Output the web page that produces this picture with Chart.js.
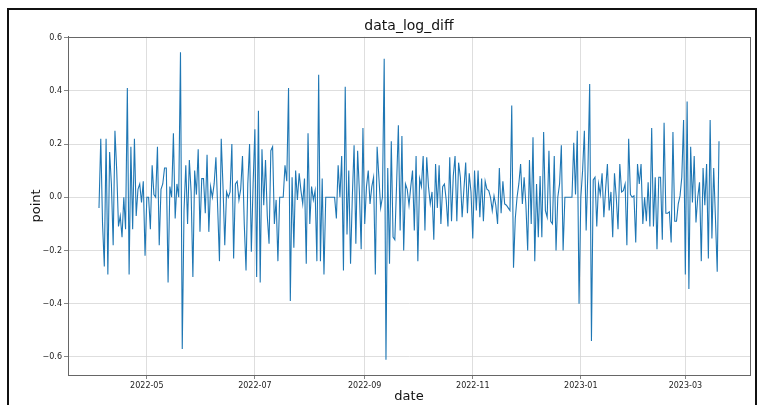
<!DOCTYPE html>
<html>
<head>
  <title>data_log_diff</title>
  <script src="https://cdn.jsdelivr.net/npm/chart.js"></script>
  <style>
    body { margin: 0; background: #fff; }
  </style>
</head>
<body>
  <canvas id="diffChart" width="760" height="405"></canvas>

  <script>
    // daily values, first one is 2022-04-04
    const startDate = '2022-04-04';
    const values = [
      -0.04, 0.22, -0.10, -0.26, 0.22, -0.29, 0.17, 0.05, -0.18, 0.25,
      0.10, -0.11, -0.07, -0.15, 0.0, -0.12, 0.41, -0.29, 0.19, -0.12,
      0.22, -0.07, 0.03, 0.05, -0.02, 0.06, -0.22, 0.0, 0.0, -0.12,
      0.12, 0.01, 0.0, 0.19, -0.18, 0.03, 0.05, 0.11, 0.11, -0.32,
      0.04, 0.0, 0.24, -0.08, 0.05, 0.0, 0.545, -0.57, -0.05, 0.12,
      -0.10, 0.14, 0.02, -0.30, 0.10, 0.01, 0.18, -0.13, 0.07, 0.07,
      -0.06, 0.16, -0.13, 0.04, 0.0, 0.05, 0.15, -0.04, -0.24, 0.22,
      0.04, -0.18, 0.02, 0.0, 0.02, 0.20, -0.23, 0.05, 0.06, -0.01,
      0.03, 0.155, -0.10, -0.275, 0.05, 0.20, -0.205, 0.05, 0.255, -0.30,
      0.325, -0.32, 0.18, -0.03, 0.14, -0.07, -0.175, 0.175, 0.19, -0.10,
      -0.01, -0.24, 0.0, 0.0, 0.0, 0.12, 0.06, 0.41, -0.39, 0.075,
      -0.19, 0.10, -0.01, 0.09, 0.025, -0.025, 0.07, -0.25, 0.24, -0.10,
      0.04, -0.01, 0.025, -0.24, 0.46, -0.24, 0.07, -0.29, 0.0, 0.0,
      0.0, 0.0, 0.0, 0.0, -0.08, 0.12, 0.0, 0.155, -0.275, 0.415,
      -0.14, 0.10, -0.25, 0.0, 0.195, -0.175, 0.175, 0.02, -0.195, 0.26,
      -0.10, 0.04, 0.10, -0.025, 0.04, 0.075, -0.29, 0.19, 0.075, -0.04,
      0.0, 0.52, -0.61, 0.11, -0.25, 0.21, -0.15, -0.16, 0.05, 0.27,
      -0.125, 0.23, -0.20, 0.05, 0.03, -0.03, 0.04, 0.10, -0.125, 0.155,
      -0.24, 0.07, 0.04, 0.155, -0.125, 0.15, 0.04, -0.025, 0.02, -0.16,
      0.125, -0.04, 0.12, -0.10, 0.04, 0.05, -0.01, -0.11, 0.15, -0.09,
      0.08, 0.155, -0.09, 0.13, 0.075, -0.075, 0.03, 0.13, -0.06, 0.09,
      0.02, -0.155, 0.10, -0.05, 0.10, -0.075, 0.07, -0.09, 0.06, 0.03,
      0.025, 0.0, -0.05, 0.005, -0.03, -0.10, 0.11, -0.06, 0.06, -0.025,
      -0.03, -0.04, -0.05, 0.345, -0.265, -0.08, 0.0, 0.05, 0.125, -0.025,
      0.075, -0.03, -0.20, 0.14, -0.10, 0.225, -0.24, 0.05, -0.15, 0.08,
      -0.15, 0.245, -0.05, -0.075, 0.175, -0.09, -0.10, 0.155, -0.20, 0.0,
      0.05, 0.195, -0.20, 0.0, 0.0, 0.0, 0.0, 0.0, 0.205, 0.01,
      0.25, -0.40, 0.0, 0.10, 0.25, -0.125, 0.10, 0.425, -0.54, 0.065,
      0.075, -0.11, 0.05, 0.01, 0.09, -0.075, 0.03, 0.125, -0.05, 0.02,
      -0.15, 0.09, 0.0, -0.12, 0.125, 0.02, 0.025, 0.05, -0.18, 0.22,
      0.01, 0.0, 0.005, -0.17, 0.125, 0.05, 0.125, -0.10, 0.0, -0.09,
      0.056, -0.11, 0.26, -0.11, 0.075, -0.195, 0.075, 0.075, -0.16, 0.28,
      -0.06, -0.06, -0.055, -0.17, 0.245, -0.09, -0.09, -0.025, 0.005, 0.075,
      0.29, -0.29, 0.36, -0.345, 0.19, -0.02, 0.155, -0.095, 0.0, 0.056,
      -0.24, 0.11, -0.03, 0.125, -0.23, 0.29, -0.155, 0.11, -0.08, -0.28,
      0.21
    ];

    const tickDates = ['2022-05-01', '2022-07-01', '2022-09-01', '2022-11-01', '2023-01-01', '2023-03-01'];
    const tickLabels = ['2022-05', '2022-07', '2022-09', '2022-11', '2023-01', '2023-03'];
    const yTicks = [-0.6, -0.4, -0.2, 0.0, 0.2, 0.4, 0.6];

    function dayOffset(s) {
      return (Date.parse(s) - Date.parse(startDate)) / 86400000;
    }

    const xTicks = tickDates.map(dayOffset);
    const points = values.map((v, i) => ({ x: i, y: v }));

    // matplotlib style 5% margins
    const span = values.length - 1;
    const yLo = Math.min(...values), yHi = Math.max(...values);
    const yPad = (yHi - yLo) * 0.05;

    const FONT = 'DejaVu Sans';
    const FRAME = '#666';

    // black outline round the whole figure + box round the axes
    const framePlugin = {
      id: 'frames',
      beforeDraw(chart) {
        const ctx = chart.ctx;
        ctx.save();
        ctx.fillStyle = '#fff';
        ctx.fillRect(0, 0, chart.width, chart.height);
        ctx.strokeStyle = '#111';
        ctx.lineWidth = 2;
        ctx.strokeRect(8, 9, 748, 410);
        ctx.restore();
      },
      afterDraw(chart) {
        const a = chart.chartArea;
        const ctx = chart.ctx;
        ctx.save();
        ctx.strokeStyle = FRAME;
        ctx.lineWidth = 1;
        ctx.strokeRect(Math.round(a.left) + 0.5, Math.round(a.top) + 0.5,
          Math.round(a.right - a.left), Math.round(a.bottom - a.top));
        ctx.restore();
      }
    };

    new Chart(document.getElementById('diffChart'), {
      type: 'line',
      data: {
        datasets: [{
          label: 'data_log_diff',
          data: points,
          borderColor: '#1f77b4',
          borderWidth: 1.1,
          pointRadius: 0,
          tension: 0
        }]
      },
      options: {
        responsive: false,
        animation: false,
        devicePixelRatio: 1,
        layout: { padding: { left: 25, right: 10, top: 0, bottom: 0 } },
        plugins: {
          legend: { display: false },
          tooltip: { enabled: false },
          title: {
            display: true,
            text: 'data_log_diff',
            fullSize: false,
            color: '#111',
            font: { family: FONT, size: 14, weight: 'normal' },
            padding: { top: 18, bottom: 2 }
          }
        },
        scales: {
          x: {
            type: 'linear',
            min: -span * 0.05,
            max: span * 1.05,
            afterFit: s => { s.height = 30; },
            afterBuildTicks: s => { s.ticks = xTicks.map(v => ({ value: v })); },
            ticks: {
              autoSkip: false,
              maxRotation: 0,
              padding: 2,
              color: '#222',
              font: { family: FONT, size: 8 },
              callback: v => tickLabels[xTicks.indexOf(v)]
            },
            grid: { color: '#d6d6d6', lineWidth: 0.8, tickLength: 4, tickColor: FRAME },
            border: { color: FRAME },
            title: {
              display: true,
              text: 'date',
              color: '#111',
              font: { family: FONT, size: 13 },
              padding: { top: 0, bottom: 1 }
            }
          },
          y: {
            min: yLo - yPad,
            max: yHi + yPad,
            afterFit: s => { s.width = 43; },
            afterBuildTicks: s => { s.ticks = yTicks.map(v => ({ value: v })); },
            ticks: {
              padding: 2,
              color: '#222',
              font: { family: FONT, size: 8 },
              callback: v => v.toFixed(1).replace('-', '\u2212')
            },
            grid: { color: '#d6d6d6', lineWidth: 0.8, tickLength: 4, tickColor: FRAME },
            border: { color: FRAME },
            title: {
              display: true,
              text: 'point',
              color: '#111',
              font: { family: FONT, size: 13 },
              padding: { top: 4, bottom: 4 }
            }
          }
        }
      },
      plugins: [framePlugin]
    });
  </script>
</body>
</html>
